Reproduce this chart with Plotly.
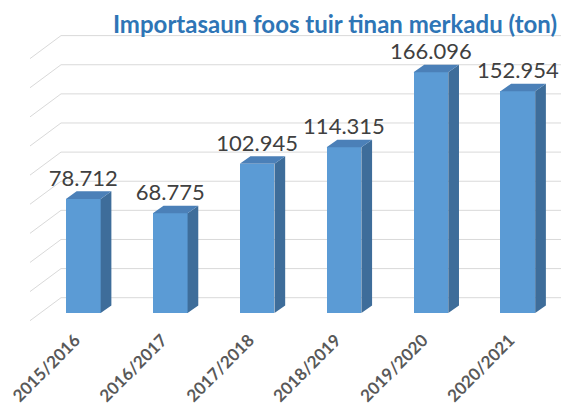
import plotly.graph_objects as go

# ---- data ----
seasons = ["2015/2016", "2016/2017", "2017/2018", "2018/2019", "2019/2020", "2020/2021"]
imports_ton = [78.712, 68.775, 102.945, 114.315, 166.096, 152.954]
label_text = ["78.712", "68.775", "102.945", "114.315", "166.096", "152.954"]
grid_values = [0, 20, 40, 60, 80, 100, 120, 140, 160, 180]
title_text = "Importasaun foos tuir tinan merkadu (ton)"

# ---- style / geometry constants ----
W, H = 561, 408
PX_PER_CAT = 86.9
X0_PX = 83.3
PX_PER_UNIT = 1.449
BASE_PX = 313.0            # front zero line (px from top)
WALL_BASE_PX = 297.7       # back-wall zero line
WALL_PX_PER_UNIT = 1.456
BAR_W = 0.40
DX = 10.7 / PX_PER_CAT     # depth offset (x units)
DY = 7.6 / PX_PER_UNIT     # depth offset (value units)
WALL_LEFT = (61 - X0_PX) / PX_PER_CAT
FLOOR_LEFT = (30 - X0_PX) / PX_PER_CAT
DIAG_DY = 23 / WALL_PX_PER_UNIT
TICK_SHIFT = -8 / PX_PER_CAT

x_range = [-X0_PX / PX_PER_CAT, (W - X0_PX) / PX_PER_CAT]
y_range = [(BASE_PX - H) / PX_PER_UNIT, BASE_PX / PX_PER_UNIT]
y2_range = [(WALL_BASE_PX - H) / WALL_PX_PER_UNIT, WALL_BASE_PX / WALL_PX_PER_UNIT]

FRONT = "#5B9BD5"
SIDE = "#3E6D9A"
TOP = "#4B80B8"

xs = list(range(len(seasons)))

fig = go.Figure()

# side faces
sx, sy = [], []
tx, ty = [], []
for x, v in zip(xs, imports_ton):
    r = x + BAR_W / 2
    l = x - BAR_W / 2
    sx += [r, r + DX, r + DX, r, r, None]
    sy += [0, DY, v + DY, v, 0, None]
    tx += [l, r, r + DX, l + DX, l, None]
    ty += [v, v, v + DY, v + DY, v, None]

fig.add_trace(go.Scatter(x=sx, y=sy, mode="lines", fill="toself", fillcolor=SIDE,
                         line=dict(width=0, color=SIDE), hoverinfo="skip", showlegend=False))
fig.add_trace(go.Scatter(x=tx, y=ty, mode="lines", fill="toself", fillcolor=TOP,
                         line=dict(width=0, color=TOP), hoverinfo="skip", showlegend=False))
fig.add_trace(go.Bar(x=xs, y=imports_ton, width=BAR_W, marker=dict(color=FRONT, line=dict(width=0)),
                     showlegend=False))
fig.add_trace(go.Scatter(x=xs, y=[v + DY for v in imports_ton], mode="text", text=label_text,
                         textposition="top center",
                         textfont=dict(family="Lato", size=22, color="#404040"),
                         showlegend=False, cliponaxis=False))

# back-wall gridlines + side-wall diagonals
for g in grid_values:
    fig.add_shape(type="line", xref="x", yref="y2", x0=WALL_LEFT, x1=x_range[1], y0=g, y1=g,
                  line=dict(color="#D9D9D9", width=1), layer="below")
    fig.add_shape(type="line", xref="x", yref="y2", x0=FLOOR_LEFT, x1=WALL_LEFT, y0=g - DIAG_DY, y1=g,
                  line=dict(color="#D9D9D9", width=1), layer="below")

fig.update_layout(
    width=W, height=H,
    margin=dict(l=0, r=0, t=0, b=0),
    paper_bgcolor="white", plot_bgcolor="white",
    bargap=0,
    title=dict(text="<b>" + title_text + "</b>", x=557 / W, xanchor="right", xref="paper",
               y=1 - 25 / H, yanchor="middle", yref="paper",
               font=dict(family="Lato", size=24, color="#2E75B6")),
    xaxis=dict(range=x_range, tickvals=[x + TICK_SHIFT for x in xs], ticktext=seasons, tickangle=-45,
               showgrid=False, zeroline=False, showline=False, ticks="",
               anchor="free", position=(H - BASE_PX) / H, ticklabelstandoff=13,
               tickfont=dict(family="Lato", size=17, color="#595959", weight="bold")),
    yaxis=dict(range=y_range, visible=False),
    yaxis2=dict(range=y2_range, overlaying="y", visible=False),
)

fig.write_html("out.html", config={"displayModeBar": False})
with open("out.html", encoding="utf-8") as f:
    html = f.read()
html = html.replace("<body>", '<body style="margin:0;padding:0;overflow:hidden">', 1)
with open("out.html", "w", encoding="utf-8") as f:
    f.write(html)
